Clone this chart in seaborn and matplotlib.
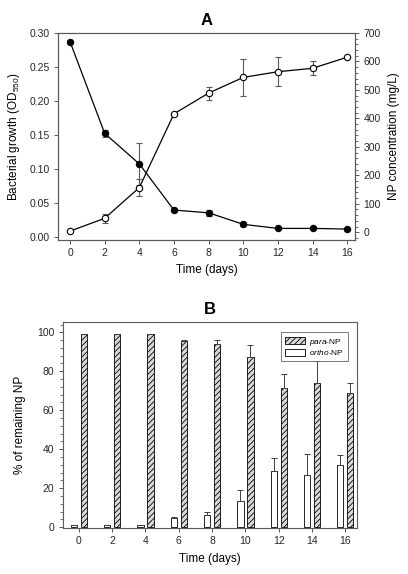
import numpy as np
import pandas as pd
import matplotlib
matplotlib.use("Agg")
import matplotlib.pyplot as plt
from matplotlib.ticker import FormatStrFormatter, MultipleLocator
from matplotlib.patches import Patch
import seaborn as sns

# ---- data ----
days = [0, 2, 4, 6, 8, 10, 12, 14, 16]
od550 = [0.287, 0.152, 0.107, 0.039, 0.035, 0.018, 0.012, 0.012, 0.011]
od550_err = [0.0, 0.005, 0.031, 0.0, 0.004, 0.003, 0.0, 0.0, 0.0]
np_conc = [4, 49, 157, 416, 489, 544, 564, 576, 615]
np_conc_err = [0, 15, 29, 0, 23, 65, 50, 24, 0]

para_np = [99.0, 99.0, 99.0, 95.7, 93.9, 87.2, 71.3, 74.0, 68.8]
para_err = [0.0, 0.0, 0.0, 0.3, 2.0, 6.1, 7.2, 11.3, 5.3]
ortho_np = [1.0, 1.0, 1.3, 4.6, 6.2, 13.2, 28.7, 26.5, 31.9]
ortho_err = [0.0, 0.0, 0.0, 0.7, 1.8, 6.0, 7.0, 11.0, 5.3]

sns.set_theme(style="ticks")
plt.rcParams["font.family"] = ["Liberation Sans", "DejaVu Sans"]
plt.rcParams["mathtext.fontset"] = "custom"
plt.rcParams["mathtext.rm"] = "Liberation Sans"
plt.rcParams["mathtext.it"] = "Liberation Sans:italic"
plt.rcParams["hatch.linewidth"] = 0.6
plt.rcParams["text.color"] = "black"
plt.rcParams["axes.labelcolor"] = "black"
plt.rcParams["axes.edgecolor"] = "0.35"
plt.rcParams["xtick.color"] = "0.35"
plt.rcParams["ytick.color"] = "0.35"
plt.rcParams["xtick.labelcolor"] = "0.15"
plt.rcParams["ytick.labelcolor"] = "0.15"

fig = plt.figure(figsize=(4.08, 5.74), dpi=100)
tick_fs = 7.5
lab_fs = 8.5

# ---------------- Panel A ----------------
axA = fig.add_axes([0.142, 0.582, 0.728, 0.3605])
axA2 = axA.twinx()

dfA = pd.DataFrame({"day": days, "od": od550, "np": np_conc})
axA.errorbar(days, od550, yerr=od550_err, fmt="none", ecolor="0.35",
             elinewidth=0.8, capsize=2.5, capthick=0.8, zorder=2)
sns.lineplot(data=dfA, x="day", y="od", ax=axA, color="black", linewidth=0.9,
             marker="o", markersize=4.6, markerfacecolor="black",
             markeredgecolor="black", zorder=3)
axA2.errorbar(days, np_conc, yerr=np_conc_err, fmt="none", ecolor="0.35",
              elinewidth=0.8, capsize=2.5, capthick=0.8, zorder=2)
sns.lineplot(data=dfA, x="day", y="np", ax=axA2, color="black", linewidth=0.9,
             marker="o", markersize=4.6, markerfacecolor="white",
             markeredgecolor="black", markeredgewidth=0.8, zorder=3)

axA.set_xlim(-0.7, 16.45)
axA.set_ylim(-0.005, 0.30)
axA2.set_ylim(-27, 700)
axA.set_xticks(days)
axA.set_yticks(np.arange(0, 0.31, 0.05))
axA.yaxis.set_major_formatter(FormatStrFormatter("%.2f"))
axA2.set_yticks(np.arange(0, 701, 100))
axA2.yaxis.set_minor_locator(MultipleLocator(20))
for a in (axA, axA2):
    a.tick_params(labelsize=tick_fs, length=3, width=0.7, pad=3)
    a.tick_params(which="minor", length=2, width=0.6)
    for s in a.spines.values():
        s.set_linewidth(0.8)
axA.set_xlabel("Time (days)", fontsize=lab_fs, labelpad=4)
axA.set_ylabel("Bacterial growth (OD$_{550}$)", fontsize=lab_fs, labelpad=5)
axA2.set_ylabel("NP concentration (mg/L)", fontsize=lab_fs, labelpad=5)
axA.set_title("A", fontsize=12, fontweight="bold", pad=6, color="black")

# ---------------- Panel B ----------------
axB = fig.add_axes([0.154, 0.080, 0.721, 0.359])
dfB = pd.DataFrame({
    "day": days * 2,
    "value": ortho_np + para_np,
    "isomer": ["ortho-NP"] * len(days) + ["para-NP"] * len(days),
})
sns.barplot(data=dfB, x="day", y="value", hue="isomer",
            hue_order=["ortho-NP", "para-NP"], palette=["white", "white"],
            width=0.6, gap=0.37, edgecolor="black", linewidth=0.6,
            errorbar=None, legend=False, ax=axB, saturation=1)

for cont, errs in zip(axB.containers, [ortho_err, para_err]):
    xs = [p.get_x() + p.get_width() / 2 for p in cont.patches]
    hs = [p.get_height() for p in cont.patches]
    axB.errorbar(xs, hs, yerr=[np.zeros(len(errs)), errs], fmt="none",
                 ecolor="0.25", elinewidth=0.7, capsize=2.5, capthick=0.7)
for p in axB.containers[1].patches:
    p.set_hatch("//////")
    p.set_facecolor("0.85")

axB.set_xlim(-0.48, 8.35)
axB.set_ylim(-0.5, 105.3)
axB.set_yticks(np.arange(0, 101, 20))
axB.yaxis.set_minor_locator(MultipleLocator(4))
axB.tick_params(labelsize=tick_fs, length=3, width=0.7, pad=3)
axB.tick_params(which="minor", length=2, width=0.6)
for s in axB.spines.values():
    s.set_linewidth(0.8)
axB.set_xlabel("Time (days)", fontsize=lab_fs, labelpad=5)
axB.set_ylabel("% of remaining NP", fontsize=lab_fs, labelpad=8)
axB.set_title("B", fontsize=12, fontweight="bold", pad=6, color="black")

handles = [Patch(facecolor="0.85", edgecolor="black", hatch="//////", linewidth=0.6),
           Patch(facecolor="white", edgecolor="black", linewidth=0.6)]
leg = axB.legend(handles, [r"$\it{para}$-NP", r"$\it{ortho}$-NP"],
                 loc="upper right", bbox_to_anchor=(0.985, 0.97),
                 fontsize=6, frameon=True, fancybox=False, edgecolor="0.35",
                 handlelength=2.4, handleheight=0.9, labelspacing=0.05,
                 borderpad=0.5, handletextpad=0.5)
leg.get_frame().set_linewidth(0.7)

fig.savefig("out.png", dpi=100)
